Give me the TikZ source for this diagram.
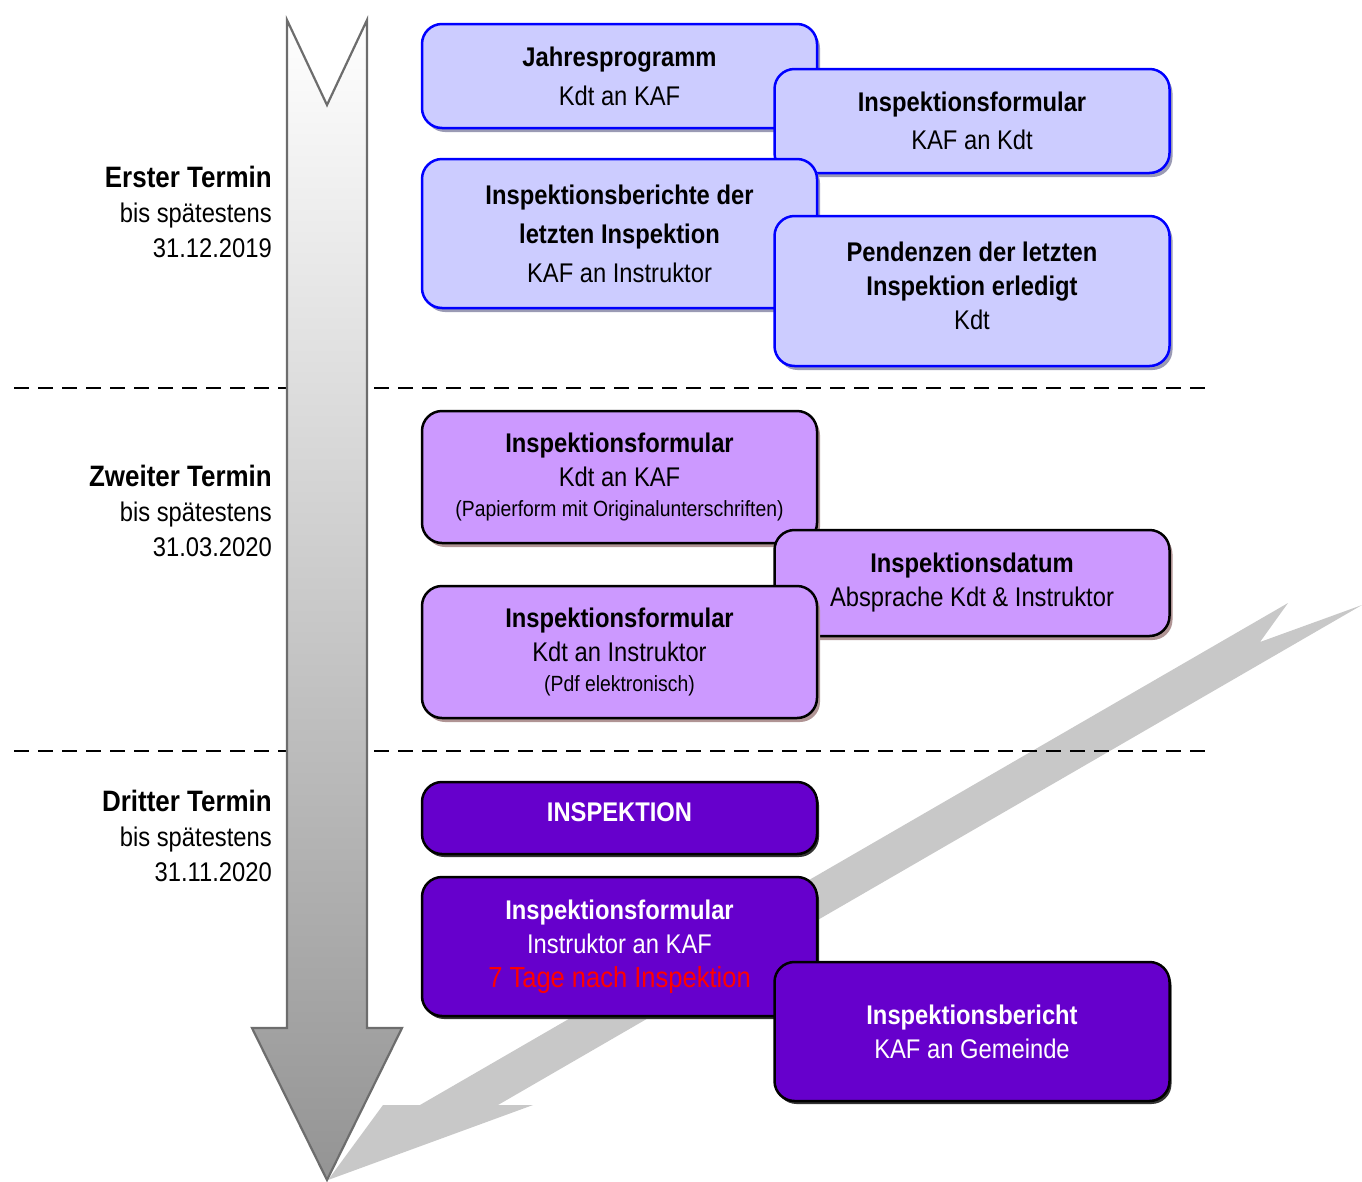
\documentclass[tikz,border=0pt]{standalone}
\usepackage{fontspec}
\setmainfont{Liberation Sans}[FakeStretch=0.88]
\usepackage{xcolor}
\usepackage{tikz}
\usetikzlibrary{shadows}

\definecolor{bluefill}{HTML}{CCCCFF}
\definecolor{blueline}{HTML}{0000FF}
\definecolor{blueshade}{HTML}{9A9AB4}
\definecolor{lilacfill}{HTML}{CC99FF}
\definecolor{lilacshade}{HTML}{B09494}
\definecolor{violetfill}{HTML}{6600CC}
\definecolor{arrowline}{HTML}{6D6D6D}
\definecolor{arrowshade}{HTML}{C8C8C8}
\newcommand{\smalltxt}{\fontsize{22}{26}\selectfont}
\newcommand{\headtxt}{\fontsize{29.5}{35}\selectfont\bfseries}

\begin{document}
\begin{tikzpicture}[x=1pt,y=1pt]
\tikzstyle{every node}+=[inner sep=0pt]
\tikzstyle{box}=[rectangle,rounded corners=20pt,line width=2.5pt,minimum width=395pt,align=center,font=\fontsize{27}{34}\selectfont]
\tikzstyle{bluebox}=[box,draw=blueline,fill=bluefill,drop shadow={shadow xshift=3pt,shadow yshift=-4pt,opacity=1,fill=blueshade}]
\tikzstyle{lilacbox}=[box,draw=black,fill=lilacfill,drop shadow={shadow xshift=3pt,shadow yshift=-4pt,opacity=1,fill=lilacshade}]
\tikzstyle{violetbox}=[box,draw=black,fill=violetfill,text=white,drop shadow={shadow xshift=2pt,shadow yshift=-3pt,opacity=1,fill=black!80}]
\tikzstyle{termin}=[anchor=east,align=right,font=\fontsize{27}{35}\selectfont]
\useasboundingbox (0,0) rectangle (1362,-1181);
\fill [arrowshade] (1288,-603) -- (1260,-642) -- (1362,-605) -- (498,-1105) -- (533,-1105) -- (328,-1180) -- (383,-1105) -- (420,-1105) -- cycle;
\draw [line width=2pt,dash pattern=on 15pt off 9pt] (14,-388) -- (1213,-388);
\draw [line width=2pt,dash pattern=on 15pt off 9pt] (14,-751) -- (1213,-751);
\shadedraw [top color=white,bottom color=black!42,draw=arrowline,line width=2.2pt] (287,-20) -- (327,-105) -- (367,-20) -- (367,-1028) -- (402,-1028) -- (327,-1180) -- (252,-1028) -- (287,-1028) -- cycle;
\node [termin] (erster) at (272,-212) {{\headtxt Erster Termin}\\bis spätestens\\31.12.2019};
\node [termin] (zweiter) at (272,-511) {{\headtxt Zweiter Termin}\\bis spätestens\\31.03.2020};
\node [termin] (dritter) at (272,-836) {{\headtxt Dritter Termin}\\bis spätestens\\31.11.2020};
\node [bluebox,minimum height=104pt] (jahresprogramm) at (619.5,-76) {\textbf{Jahresprogramm}\\[5pt]Kdt an KAF};
\node [bluebox,minimum height=104pt] (formularkdt) at (972,-121) {\textbf{Inspektionsformular}\\[4pt]KAF an Kdt};
\node [bluebox,minimum height=149pt] (berichte) at (619.5,-233.5) {\textbf{Inspektionsberichte der}\\[5pt]\textbf{letzten Inspektion}\\[5pt]KAF an Instruktor};
\node [bluebox,minimum height=150pt,text depth=10pt] (pendenzen) at (972,-291) {\textbf{Pendenzen der letzten}\\\textbf{Inspektion erledigt}\\Kdt};
\node [lilacbox,minimum height=132pt] (formularkaf) at (619.5,-477) {\textbf{Inspektionsformular}\\Kdt an KAF\\[-4pt]{\smalltxt(Papierform mit Originalunterschriften)}};
\node [lilacbox,minimum height=106pt] (datum) at (972,-583) {\textbf{Inspektionsdatum}\\Absprache Kdt \& Instruktor};
\node [lilacbox,minimum height=132pt] (formularinstr) at (619.5,-652) {\textbf{Inspektionsformular}\\Kdt an Instruktor\\[-4pt]{\smalltxt(Pdf elektronisch)}};
\node [violetbox,minimum height=72pt,text depth=12pt] (inspektion) at (619.5,-818) {\textbf{INSPEKTION}};
\node [violetbox,minimum height=139pt] (formularrueck) at (619.5,-946.5) {\textbf{Inspektionsformular}\\Instruktor an KAF\\{\fontsize{29}{34}\selectfont\textcolor{red}{7 Tage nach Inspektion}}};
\node [violetbox,minimum height=139pt] (bericht) at (972,-1031.5) {\textbf{Inspektionsbericht}\\KAF an Gemeinde};
\end{tikzpicture}
\end{document}
